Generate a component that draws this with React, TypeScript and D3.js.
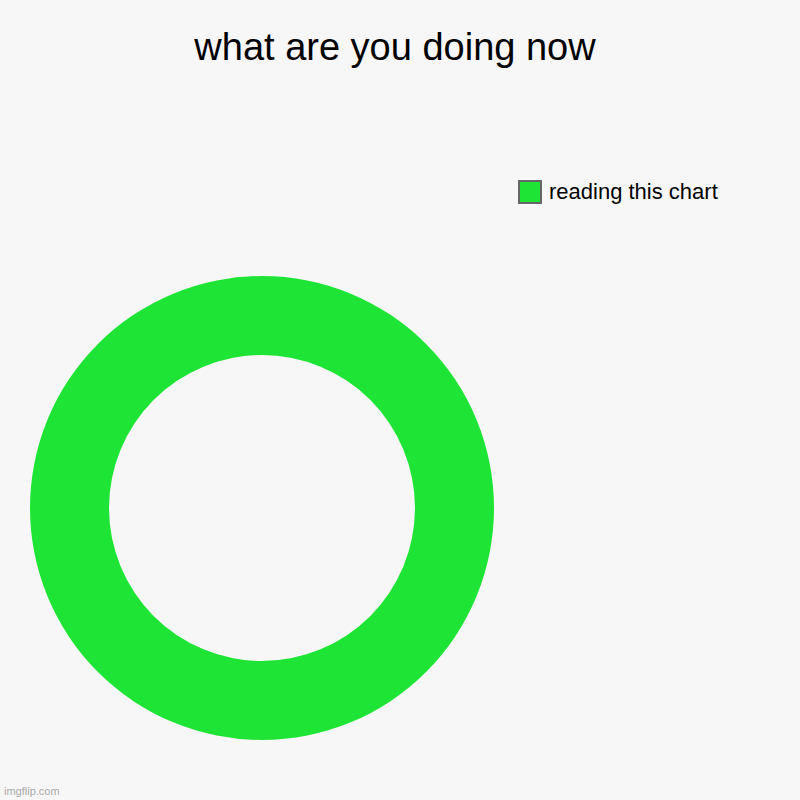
import { useRef, useEffect } from 'react';
import * as d3 from 'd3';

const categories = ['reading this chart'];
const values = [100];
const colors = ['#1ee535'];

const TITLE = 'what are you doing now';
const WIDTH = 800;
const HEIGHT = 800;

export default function App() {
  const svgRef = useRef<SVGSVGElement>(null);

  useEffect(() => {
    document.body.style.margin = '0';
    const svg = d3.select(svgRef.current);
    svg.selectAll('*').remove();
    svg.attr('width', WIDTH).attr('height', HEIGHT);

    const font = 'Arial, "Liberation Sans", sans-serif';

    svg.append('rect')
      .attr('width', WIDTH)
      .attr('height', HEIGHT)
      .attr('fill', '#f7f7f7');

    // Title
    svg.append('text')
      .attr('x', 395)
      .attr('y', 60)
      .attr('text-anchor', 'middle')
      .attr('font-family', font)
      .attr('font-size', 38)
      .attr('fill', '#000')
      .text(TITLE);

    // Donut
    const data = categories.map((c, i) => ({ label: c, value: values[i] }));
    const pie = d3.pie<{ label: string; value: number }>().value((d) => d.value).sort(null);
    const arc = d3.arc<d3.PieArcDatum<{ label: string; value: number }>>()
      .innerRadius(153)
      .outerRadius(232);
    const color = d3.scaleOrdinal<string, string>().domain(categories).range(colors);

    svg.append('g')
      .attr('transform', 'translate(262,508)')
      .selectAll('path')
      .data(pie(data))
      .join('path')
      .attr('d', arc)
      .attr('fill', (d) => color(d.data.label));

    // Legend
    const legend = svg.append('g')
      .selectAll('g')
      .data(categories)
      .join('g')
      .attr('transform', (_d, i) => `translate(519,${181 + i * 30})`);

    legend.append('rect')
      .attr('width', 22)
      .attr('height', 22)
      .attr('fill', (d) => color(d))
      .attr('stroke', '#666')
      .attr('stroke-width', 2);

    legend.append('text')
      .attr('x', 30)
      .attr('y', 18)
      .attr('font-family', font)
      .attr('font-size', 22)
      .attr('fill', '#000')
      .text((d) => d);

    // Watermark
    svg.append('text')
      .attr('x', 4)
      .attr('y', 795)
      .attr('font-family', font)
      .attr('font-size', 11)
      .attr('fill', '#aaa')
      .text('imgflip.com');
  }, []);

  return (
    <div style={{ position: 'absolute', left: 0, top: 0 }}>
      <svg ref={svgRef} />
    </div>
  );
}
